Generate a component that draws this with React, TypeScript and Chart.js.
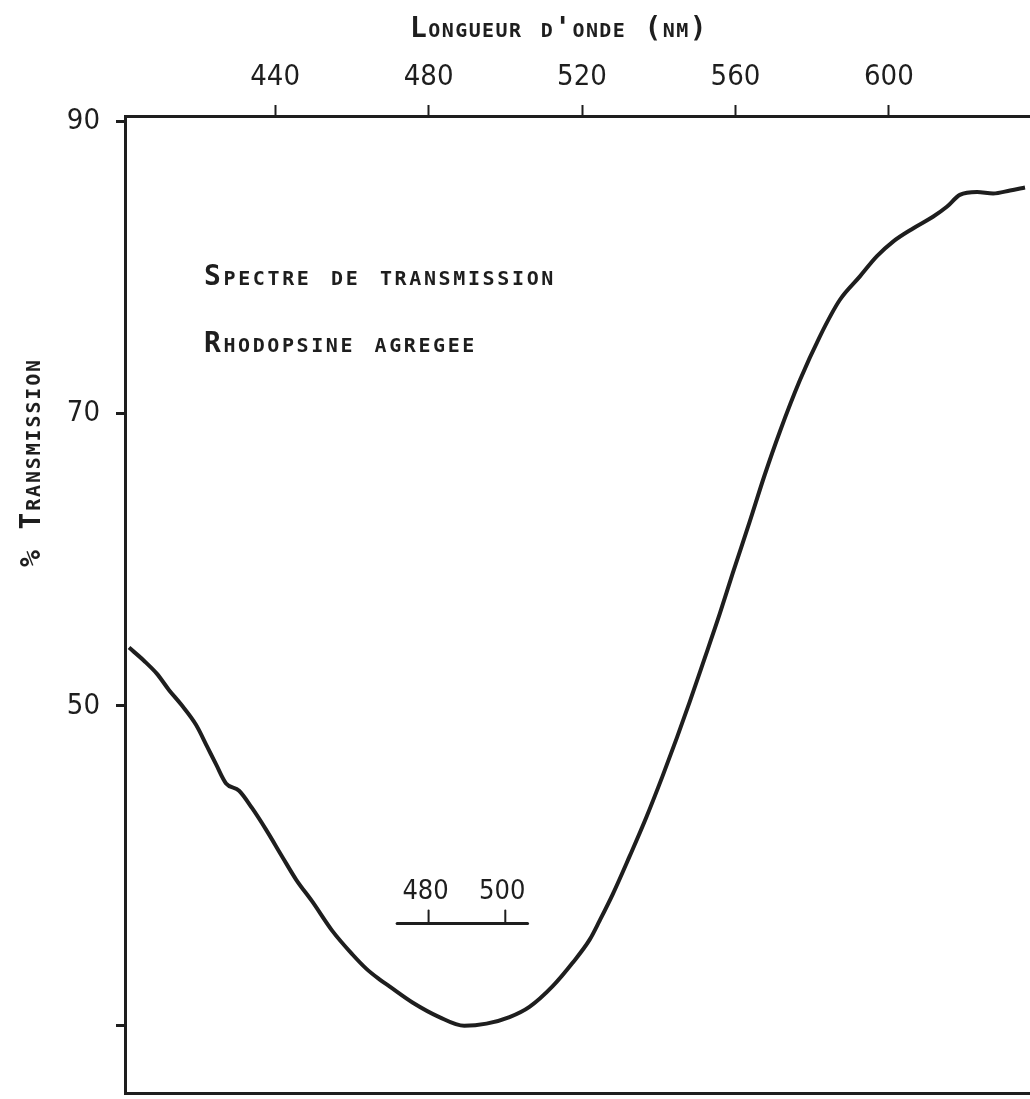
import React, { useEffect, useRef } from 'react';
import { Chart, registerables } from 'chart.js';

Chart.register(...registerables);

// ---- data ----
const wavelengths = [
  401.9, 405.8, 409.2, 412.3, 415.5, 419.4, 422.3, 424.6, 427.2, 430.6, 434.0, 437.7,
  441.8, 445.5, 449.7, 454.9, 460.1, 463.8, 467.1, 469.8, 475.8, 482.8, 489.3, 495.1,
  501.1, 506.3, 512.3, 517.5, 522.0, 524.6, 528.0, 532.4, 536.8, 541.0, 544.7, 548.1,
  551.5, 555.9, 559.3, 563.7, 567.6, 571.6, 576.8, 582.0, 587.2, 592.4, 596.9, 601.1,
  606.3, 611.5, 615.2, 618.5, 623.0, 627.2, 631.6, 635.5,
];
const transmission = [
  54.0, 53.1, 52.2, 51.1, 50.1, 48.7, 47.2, 46.0, 44.7, 44.2, 43.0, 41.5,
  39.7, 38.1, 36.6, 34.6, 33.0, 32.0, 31.3, 30.8, 29.7, 28.7, 28.1, 28.25,
  28.7, 29.4, 30.8, 32.4, 34.0, 35.3, 37.1, 39.7, 42.4, 45.2, 47.8, 50.3,
  52.9, 56.3, 59.1, 62.6, 65.8, 68.8, 72.3, 75.3, 77.8, 79.4, 80.8, 81.8,
  82.7, 83.5, 84.2, 85.0, 85.2, 85.1, 85.3, 85.5,
];
const xRange = [400.85, 636.8];
const yRange = [23.5, 90.4];
const xTickValues = [440, 480, 520, 560, 600];
const xTickLabels = ['440', '480', '520', '560', '600'];
const yTickValues = [28.1, 50, 70, 90];
const yTickLabels = ['', '50', '70', '90'];
const insetTickValues = [480, 500];
const insetTickLabels = ['480', '500'];
const insetBarRange = [471.8, 505.8];
const insetBarLevel = 35.1;
const xTitle = "Longueur d'onde (nm)";
const yTitle = '% Transmission';
const noteLines = ['Spectre de transmission', 'Rhodopsine agregee'];

// ---- styles ----
const INK = '#1e1e1e';
const DIGIT_FONT = '"Liberation Sans Narrow", "DejaVu Sans Condensed", "Roboto", sans-serif';
const LETTER_FONT = '"DejaVu Sans Mono", "Liberation Mono", monospace';

function drawSmallCaps(
  ctx: CanvasRenderingContext2D,
  text: string,
  x: number,
  baseline: number,
  width: number,
  size: number,
) {
  ctx.save();
  ctx.font = `small-caps bold ${size}px ${LETTER_FONT}`;
  (ctx as any).letterSpacing = '0px';
  const w0 = ctx.measureText(text).width;
  const ls = (width - w0) / text.length;
  (ctx as any).letterSpacing = `${ls}px`;
  ctx.fillStyle = INK;
  ctx.textAlign = 'left';
  ctx.textBaseline = 'alphabetic';
  ctx.fillText(text, x, baseline);
  ctx.restore();
}

const annotationPlugin = {
  id: 'annotations',
  afterDatasetsDraw(chart: any) {
    const ctx: CanvasRenderingContext2D = chart.ctx;
    const xs = chart.scales.x;
    const ys = chart.scales.y;
    const area = chart.chartArea;

    // inset scale bar
    const yb = ys.getPixelForValue(insetBarLevel);
    ctx.save();
    ctx.strokeStyle = INK;
    ctx.lineWidth = 3;
    ctx.lineCap = 'round';
    ctx.beginPath();
    ctx.moveTo(xs.getPixelForValue(insetBarRange[0]), yb);
    ctx.lineTo(xs.getPixelForValue(insetBarRange[1]), yb);
    ctx.stroke();
    ctx.lineWidth = 2;
    ctx.font = `27px ${DIGIT_FONT}`;
    ctx.fillStyle = INK;
    ctx.textAlign = 'center';
    ctx.textBaseline = 'alphabetic';
    insetTickValues.forEach((v, i) => {
      const px = xs.getPixelForValue(v);
      ctx.beginPath();
      ctx.moveTo(px, yb);
      ctx.lineTo(px, yb - 13);
      ctx.stroke();
      ctx.fillText(insetTickLabels[i], px - 3, yb - 25);
    });
    ctx.restore();

    // axis title (top)
    drawSmallCaps(ctx, xTitle, 410, 37, 298, 28);

    // notes inside plot
    drawSmallCaps(ctx, noteLines[0], area.left + 79, 285, 352, 28);
    drawSmallCaps(ctx, noteLines[1], area.left + 79, 352, 273, 28);

    // rotated y title
    ctx.save();
    ctx.translate(40, 567);
    ctx.rotate(-Math.PI / 2);
    drawSmallCaps(ctx, yTitle, 0, 0, 209, 28);
    ctx.restore();
  },
};

export default function App() {
  const canvasRef = useRef<HTMLCanvasElement | null>(null);

  useEffect(() => {
    const canvas = canvasRef.current;
    if (!canvas) return;
    const chart = new Chart(canvas, {
      type: 'line',
      data: {
        datasets: [
          {
            data: wavelengths.map((x, i) => ({ x, y: transmission[i] })),
            borderColor: INK,
            borderWidth: 4,
            pointRadius: 0,
            cubicInterpolationMode: 'monotone',
            fill: false,
          },
        ],
      },
      options: {
        animation: false,
        responsive: false,
        devicePixelRatio: 1,
        layout: { padding: { left: 0, right: 0, top: 0, bottom: 0 } },
        plugins: {
          legend: { display: false },
          tooltip: { enabled: false },
          title: { display: false },
        },
        scales: {
          x: {
            type: 'linear',
            position: 'top',
            min: xRange[0],
            max: xRange[1],
            afterBuildTicks: (scale: any) => {
              scale.ticks = xTickValues.map((value) => ({ value }));
            },
            afterFit: (scale: any) => {
              scale.height = 116;
              scale.paddingLeft = 0;
              scale.paddingRight = 0;
            },
            ticks: {
              autoSkip: false,
              maxRotation: 0,
              padding: 10,
              color: INK,
              font: { family: DIGIT_FONT, size: 29 },
              callback: (value: any) => {
                const i = xTickValues.indexOf(Number(value));
                return i >= 0 ? xTickLabels[i] : '';
              },
            },
            grid: {
              drawOnChartArea: false,
              drawTicks: true,
              tickLength: 11,
              tickWidth: 2,
              tickColor: INK,
              color: INK,
            },
            border: { display: true, color: INK, width: 3 },
          },
          xb: {
            type: 'linear',
            position: 'bottom',
            min: xRange[0],
            max: xRange[1],
            afterFit: (scale: any) => {
              scale.height = 6;
              scale.paddingLeft = 0;
              scale.paddingRight = 0;
            },
            ticks: { display: false },
            grid: { drawOnChartArea: false, drawTicks: false },
            border: { display: true, color: INK, width: 3 },
          },
          y: {
            type: 'linear',
            position: 'left',
            min: yRange[0],
            max: yRange[1],
            afterBuildTicks: (scale: any) => {
              scale.ticks = yTickValues.map((value) => ({ value }));
            },
            afterFit: (scale: any) => {
              scale.width = 125;
              scale.paddingTop = 0;
              scale.paddingBottom = 0;
            },
            ticks: {
              autoSkip: false,
              padding: 16,
              color: INK,
              font: { family: DIGIT_FONT, size: 29 },
              callback: (value: any) => {
                const i = yTickValues.indexOf(Number(value));
                return i >= 0 ? yTickLabels[i] : '';
              },
            },
            grid: {
              drawOnChartArea: false,
              drawTicks: true,
              tickLength: 9,
              tickWidth: 3,
              tickColor: INK,
              color: INK,
            },
            border: { display: true, color: INK, width: 3 },
          },
        },
      },
      plugins: [annotationPlugin],
    });
    return () => chart.destroy();
  }, []);

  return (
    <div style={{ position: 'absolute', left: 0, top: 0, width: 1030, height: 1099, background: '#ffffff' }}>
      <canvas ref={canvasRef} width={1030} height={1099} style={{ display: 'block' }} />
    </div>
  );
}
